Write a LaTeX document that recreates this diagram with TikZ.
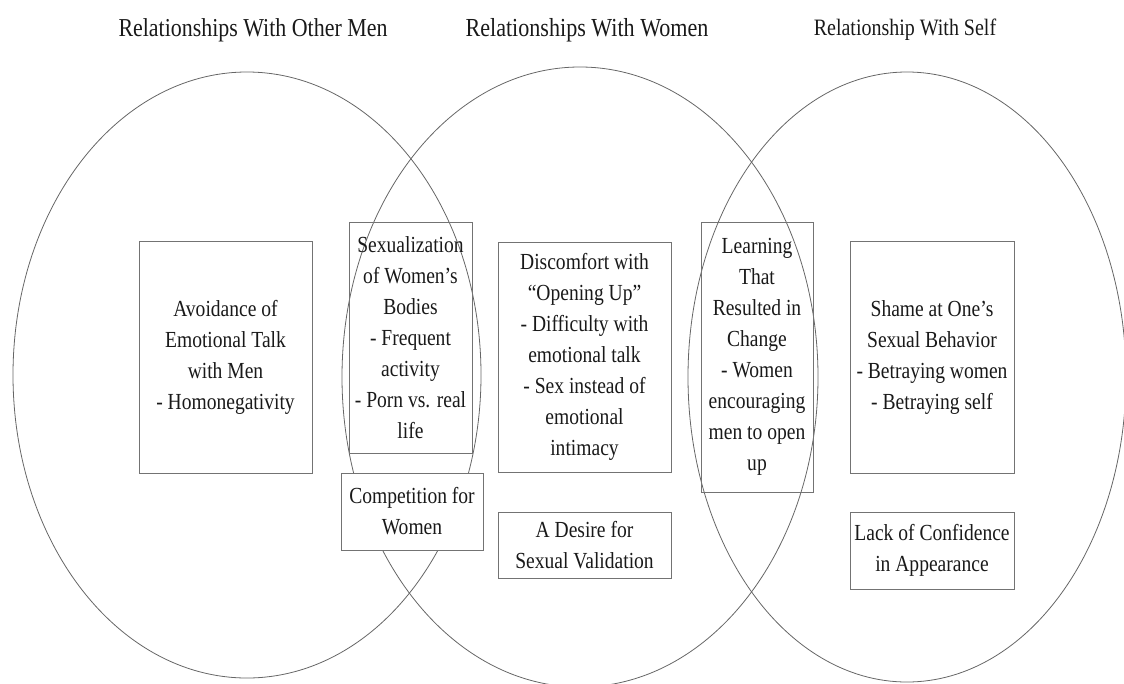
\documentclass[tikz,border=0pt]{standalone}
\usepackage{fontspec}
\setmainfont{Liberation Serif}[FakeStretch=0.85]
\newcommand\bodyfont{\fontsize{23}{31}\selectfont}
\begin{document}
\begin{tikzpicture}[x=1pt,y=-1pt,
  ell/.style={draw=black!60, line width=0.8pt},
  box/.style={draw=black!55, line width=0.8pt, align=center, inner sep=0pt, font=\bodyfont, text=black!90},
  ttl/.style={text=black!90, inner sep=0pt}]
\useasboundingbox (0,0) rectangle (1124,683);
% titles
\node[ttl, font=\fontsize{25.8}{31}\selectfont] (t1) at (253,30) {Relationships With Other Men};
\node[ttl, font=\fontsize{26}{31}\selectfont] (t2) at (587,30) {Relationships With Women};
\node[ttl, font=\fontsize{23.5}{31}\selectfont] (t3) at (905,30) {Relationship With Self};
% ellipses
\draw[ell] (247,375) ellipse [x radius=234, y radius=303];
\draw[ell] (580,377) ellipse [x radius=238, y radius=310];
\draw[ell] (907,377) ellipse [x radius=219, y radius=305];
% boxes
\node[box, minimum width=123pt, minimum height=231pt] (sexual) at (410.5,337.5)
  {Sexualization\\of Women’s\\Bodies\\- Frequent\\activity\\- Porn vs. real\\life};
\node[box, fill=white, minimum width=142pt, minimum height=77pt] (comp) at (412,511.5)
  {Competition for\\Women};
\node[box, minimum width=173pt, minimum height=232pt] (avoid) at (225.5,357)
  {Avoidance of\\Emotional Talk\\with Men\\- Homonegativity};
\node[box, minimum width=173pt, minimum height=230pt] (disc) at (584.5,357)
  {Discomfort with\\“Opening Up”\\- Difficulty with\\emotional talk\\- Sex instead of\\emotional\\intimacy};
\node[box, minimum width=173pt, minimum height=66pt] (desire) at (584.5,545)
  {A Desire for\\Sexual Validation};
\node[box, minimum width=112pt, minimum height=270pt] (learn) at (757,357)
  {Learning\\That\\Resulted in\\Change\\- Women\\encouraging\\men to open\\up};
\node[box, minimum width=164pt, minimum height=232pt] (shame) at (932,357)
  {Shame at One’s\\Sexual Behavior\\- Betraying women\\- Betraying self};
\node[box, minimum width=164pt, minimum height=77pt] (lack) at (932,550.5)
  {Lack of Confidence\\in Appearance};
\end{tikzpicture}
\end{document}
